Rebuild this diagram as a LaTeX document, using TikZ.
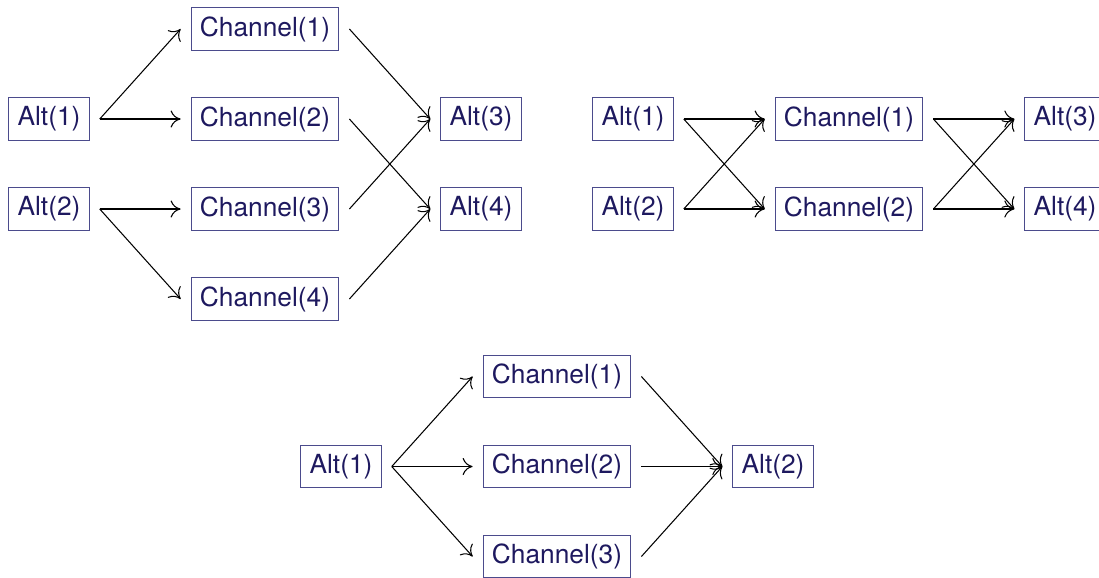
\documentclass[tikz,border=0pt]{standalone}
\usepackage{fontspec}
\setmainfont{TeX Gyre Heros}
\usetikzlibrary{positioning,arrows.meta}

\definecolor{altfg}{RGB}{30,25,95}
\definecolor{altborder}{RGB}{75,75,140}

\begin{document}
\begin{tikzpicture}[
      nodes={
        draw=altborder, text=altfg, font=\normalsize,
        outer xsep=4pt, outer ysep=0pt
      },
      on grid, node distance=34.2pt and 82.08pt,
      >={To[length=3.8pt,width=6.5pt]}
      ]

  \useasboundingbox (0,0) rectangle (417.6pt,-219.3pt);

	  % four channels
	  \node (a1) at (18.62pt,-45.22pt) {Alt(1)};
	  \node[below = of a1] (a2) {Alt(2)};
	  \node[right = of a1] (c2) {Channel(2)};
	  \node[above = of c2] (c1) {Channel(1)};
	  \node[below = of c2] (c3) {Channel(3)};
	  \node[below = of c3] (c4) {Channel(4)};
	  \node[right = of c2] (a3) {Alt(3)};
	  \node[below = of a3] (a4) {Alt(4)};

	  % two channels
	  \node (b1) at (240.54pt,-45.22pt) {Alt(1)};
	  \node[below = of b1] (b2) {Alt(2)};
	  \node[right = of b1] (d1) {Channel(1)};
	  \node[below = of d1] (d2) {Channel(2)};
	  \node[right = of d1] (b3) {Alt(3)};
	  \node[below = of b3] (b4) {Alt(4)};

	  % three channels
	  \node (e1) at (129.58pt,-177.27pt) {Alt(1)};
	  \node[right = of e1] (f2) {Channel(2)};
	  \node[above = of f2] (f1) {Channel(1)};
	  \node[below = of f2] (f3) {Channel(3)};
	  \node[right = of f2] (e2) {Alt(2)};


  % Connect the nodes

  \draw[->] (a1.east) -- (c1.west);
  \draw[->] (a1.east) -- (c2.west);
  \draw[->] (a2.east) -- (c3.west);
  \draw[->] (a2.east) -- (c4.west);
  \draw[->] (c1.east) -- (a3.west);
  \draw[->] (c2.east) -- (a4.west);
  \draw[->] (c3.east) -- (a3.west);
  \draw[->] (c4.east) -- (a4.west);

  \draw[->] (b1.east) -- (d1.west);
  \draw[->] (b1.east) -- (d2.west);
  \draw[->] (b2.east) -- (d1.west);
  \draw[->] (b2.east) -- (d2.west);
  \draw[->] (d1.east) -- (b3.west);
  \draw[->] (d1.east) -- (b4.west);
  \draw[->] (d2.east) -- (b3.west);
  \draw[->] (d2.east) -- (b4.west);

  \draw[->] (e1.east) -- (f1.west);
  \draw[->] (e1.east) -- (f2.west);
  \draw[->] (e1.east) -- (f3.west);
  \draw[->] (f1.east) -- (e2.west);
  \draw[->] (f2.east) -- (e2.west);
  \draw[->] (f3.east) -- (e2.west);

\end{tikzpicture}
\end{document}
